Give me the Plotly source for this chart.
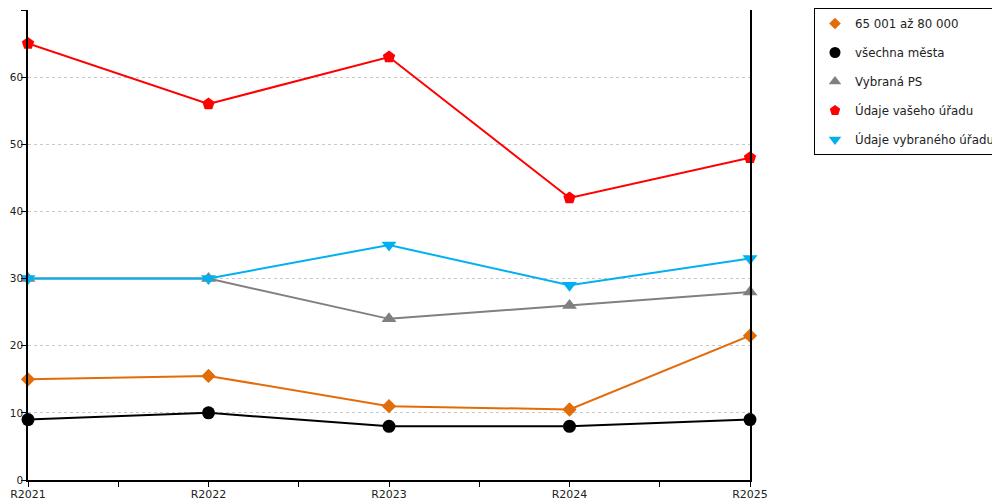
import plotly.graph_objects as go

# ==========================
# DATA
# ==========================

years = ["R2021", "R2022", "R2023", "R2024", "R2025"]

names = [
    "65 001 až 80 000",
    "všechna města",
    "Vybraná PS",
    "Údaje vašeho úřadu",
    "Údaje vybraného úřadu",
]

vals_65_80 = [15, 15.5, 11, 10.5, 21.5]
vals_vsechna = [9, 10, 8, 8, 9]
vals_ps = [30, 30, 24, 26, 28]
vals_vas = [65, 56, 63, 42, 48]
vals_vybrany = [30, 30, 35, 29, 33]

y_ticks = [0, 10, 20, 30, 40, 50, 60, 70]

# ==========================
# STYLES
# ==========================

series = [
    (names[0], vals_65_80, "#E36C0A", "diamond", 11),
    (names[1], vals_vsechna, "#000000", "circle", 13),
    (names[2], vals_ps, "#808080", "triangle-up", 13),
    (names[3], vals_vas, "#FF0000", "pentagon", 13),
    (names[4], vals_vybrany, "#00B0F0", "triangle-down", 13),
]

x_idx = list(range(len(years)))

fig = go.Figure()

# draw order: gray, blue, orange, black, red on top roughly
draw_order = [2, 4, 0, 1, 3]
for i in draw_order:
    name, vals, color, symbol, size = series[i]
    fig.add_trace(go.Scatter(
        x=x_idx, y=vals, mode="lines+markers", name=name,
        line=dict(color=color, width=2),
        marker=dict(color=color, symbol=symbol, size=size),
        showlegend=False, hoverinfo="y", cliponaxis=False,
    ))

# legend entries (markers only)
for i, (name, vals, color, symbol, size) in enumerate(series):
    fig.add_trace(go.Scatter(
        x=[None], y=[None], mode="markers", name=name,
        marker=dict(color=color, symbol=symbol, size=size - 2),
        legendgroup=f"g{i}", showlegend=True,
    ))

# half-step ticks on x, labels only on whole years
tick_vals = [k / 2 for k in range(2 * len(years) - 1)]
tick_text = [years[int(v)] if v == int(v) else "" for v in tick_vals]

# page body has an 8px margin, so the figure is a bit smaller than the window
fig.update_layout(
    width=992, height=492,
    margin=dict(l=20, r=250, t=2, b=20, autoexpand=False),
    paper_bgcolor="white", plot_bgcolor="white",
    font=dict(family="DejaVu Sans, Verdana, sans-serif", size=11, color="#222222"),
    legend=dict(
        xref="container", yref="container",
        x=0.8125, y=1.0, xanchor="left", yanchor="top",
        bordercolor="#000000", borderwidth=1,
        font=dict(size=11.8, color="#222222"),
        tracegroupgap=10, traceorder="grouped",
    ),
)

fig.update_xaxes(
    range=[0, len(years) - 1], automargin=False,
    tickmode="array", tickvals=tick_vals, ticktext=tick_text,
    showline=True, linecolor="#000000", linewidth=1.5,
    ticks="outside", ticklen=5, tickcolor="#000000", ticklabelstandoff=-2,
    showgrid=False, zeroline=False,
    tickfont=dict(size=11),
)

fig.update_yaxes(
    range=[0, 70], automargin=False,
    tickmode="array", tickvals=y_ticks,
    showline=True, linecolor="#000000", linewidth=1.5, mirror=True,
    ticks="outside", ticklen=5, tickcolor="#000000", ticklabelstandoff=-4,
    showgrid=True, gridcolor="#C8C8C8", griddash="dot", gridwidth=1,
    zeroline=False,
    tickfont=dict(size=10.5),
)

fig.write_html("out.html")
